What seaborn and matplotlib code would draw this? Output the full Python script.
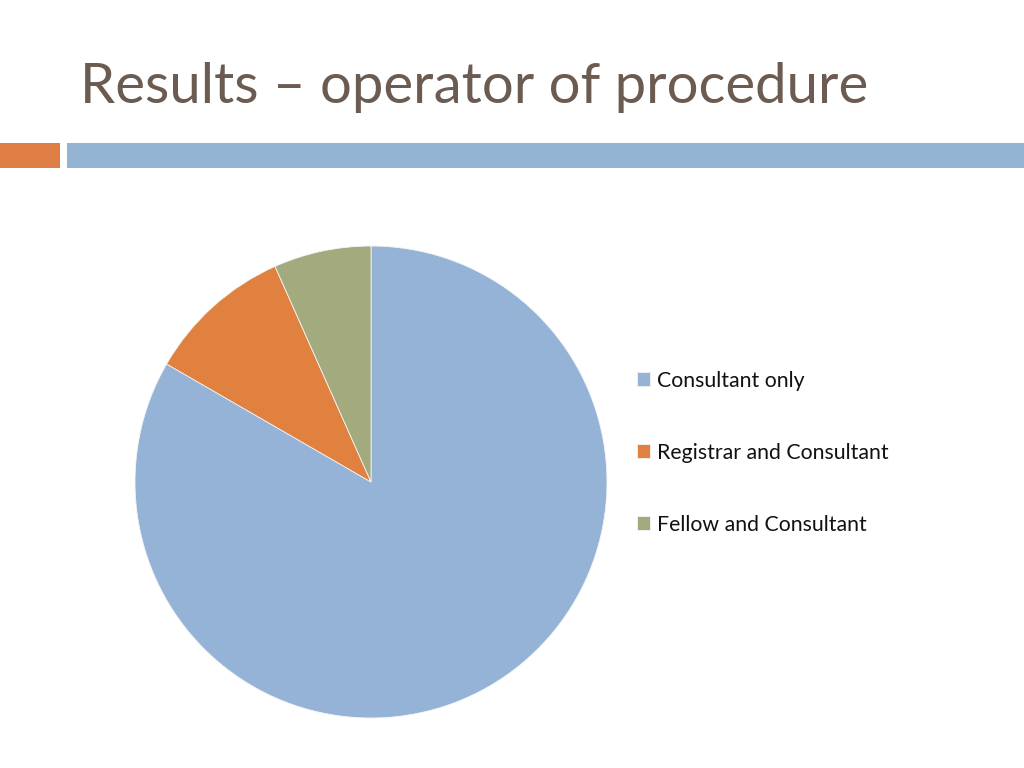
import matplotlib
matplotlib.use("Agg")
import matplotlib.pyplot as plt
import seaborn as sns
from matplotlib.patches import Rectangle

categories = ["Consultant only", "Registrar and Consultant", "Fellow and Consultant"]
counts = [25, 3, 2]
title = "Results \u2013 operator of procedure"

sns.set_theme(style="white")
plt.rcParams['font.family'] = ['Lato', 'DejaVu Sans']
palette = sns.color_palette(["#95B3D7", "#E0813F", "#A3AA7D"])

fig = plt.figure(figsize=(10.24, 7.68), dpi=100)
fig.patch.set_facecolor("white")

# header bars
fig.patches.append(Rectangle((0, 1 - 168/768), 60/1024, 25/768, transform=fig.transFigure,
                             facecolor="#E07F45", edgecolor="none"))
fig.patches.append(Rectangle((67/1024, 1 - 168/768), 1 - 67/1024, 25/768, transform=fig.transFigure,
                             facecolor="#94B4D4", edgecolor="none"))

fig.text(80/1024, 1 - 103/768, title, fontsize=40.5, color="#6B5B50", ha="left", va="baseline")

ax = fig.add_axes([135/1024, 50/768, 472/1024, 472/768])
wedges, _ = ax.pie(counts, colors=palette, startangle=90, counterclock=False,
                   wedgeprops=dict(edgecolor="#f4f4f4", linewidth=0.6))
ax.set_aspect("equal")
ax.set_xlim(-1, 1)
ax.set_ylim(-1, 1)

leg = fig.legend(wedges, categories, loc="upper left",
                 bbox_to_anchor=(628/1024, 1 - 362/768), frameon=False,
                 fontsize=15.3, handlelength=0.65, handleheight=0.65, handletextpad=0.3,
                 labelspacing=2.45, borderaxespad=0)
for t in leg.get_texts():
    t.set_color("#111111")

fig.savefig("out.png", dpi=100, facecolor="white")
